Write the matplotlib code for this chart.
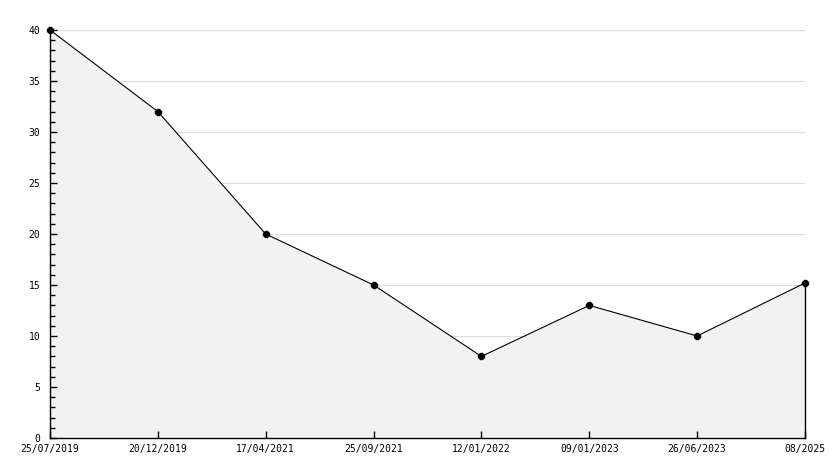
import matplotlib
matplotlib.use("Agg")
import matplotlib.pyplot as plt
from matplotlib.ticker import MultipleLocator

labels = ["25/07/2019", "20/12/2019", "17/04/2021", "25/09/2021",
          "12/01/2022", "09/01/2023", "26/06/2023", "08/2025"]
values = [40, 32, 20, 15, 8, 13, 10, 15.2]

fig = plt.figure(figsize=(8.34, 4.68), dpi=100)
ax = fig.add_axes([50/834, 30/468, (805-50)/834, (438-30)/468])

x = list(range(len(labels)))
ax.set_xlim(0, len(labels) - 1)
ax.set_ylim(0, 40)

ax.yaxis.set_major_locator(MultipleLocator(5))
ax.yaxis.set_minor_locator(MultipleLocator(1))
ax.set_xticks(x)
ax.set_xticklabels(labels)

for yv in range(5, 45, 5):
    ax.axhline(yv, color="#dcdcdc", lw=0.8, zorder=0)

ax.fill_between(x, values, 0, color="#f2f2f2", zorder=1, lw=0)
# right edge of the filled area
ax.plot([x[-1], x[-1]], [0, values[-1]], color="black", lw=1.0, zorder=2, clip_on=False)
ax.plot(x, values, color="black", lw=0.8, zorder=3,
        marker="8", markersize=5, markerfacecolor="black",
        markeredgecolor="black", clip_on=False)

for s in ["top", "right"]:
    ax.spines[s].set_visible(False)
for s in ["left", "bottom"]:
    ax.spines[s].set_linewidth(1.0)
    ax.spines[s].set_color("black")
    ax.spines[s].set_zorder(4)

ax.tick_params(axis="y", which="major", direction="in", length=5, width=1, pad=7)
ax.tick_params(axis="y", which="minor", direction="in", length=3.5, width=1)
ax.tick_params(axis="x", which="major", direction="in", length=5, width=1, pad=4)
ax.tick_params(right=False, top=False)
for lab in ax.get_xticklabels() + ax.get_yticklabels():
    lab.set_fontfamily("DejaVu Sans Mono")
    lab.set_fontsize(7)

fig.savefig("out.png", dpi=100, facecolor="white")
